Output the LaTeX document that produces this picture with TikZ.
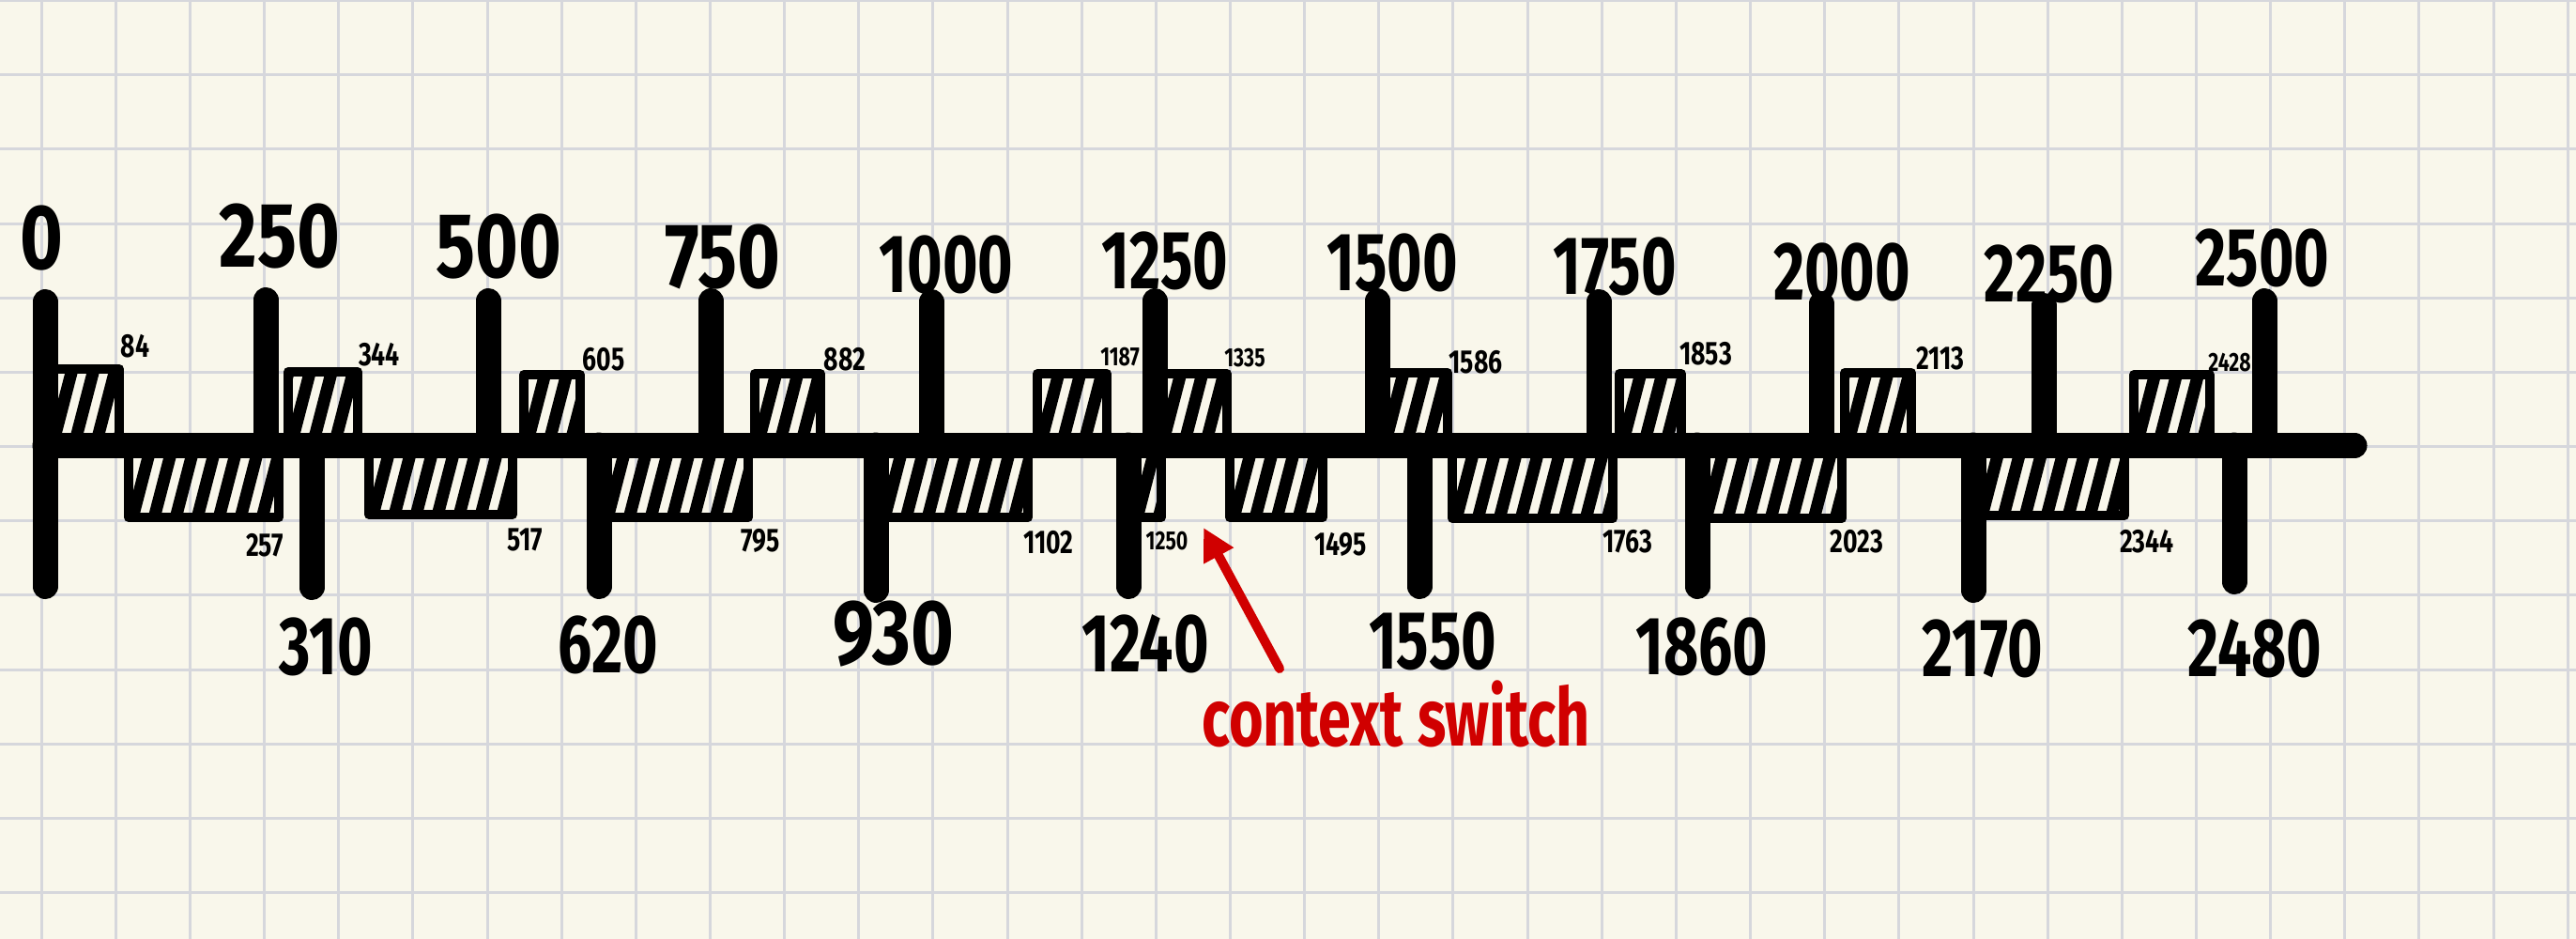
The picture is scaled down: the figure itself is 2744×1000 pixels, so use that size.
\documentclass[tikz,border=0pt]{standalone}
\usepackage{fontspec}
\newfontfamily\handfont[FakeStretch=0.73]{Fira Sans}
\newfontfamily\widehand[FakeStretch=0.8]{Fira Sans}
\newfontfamily\smallhand[FakeStretch=0.76]{Fira Sans}
\newfontfamily\redhand[FakeStretch=0.73]{Fira Sans}
\usetikzlibrary{arrows.meta}
\definecolor{paper}{RGB}{249,247,235}
\definecolor{gridc}{RGB}{214,215,220}
\definecolor{penred}{RGB}{208,0,0}
\tikzset{
  gridline/.style={gridc, line width=3pt},
  tickline/.style={line width=27pt, line cap=round},
  axisline/.style={line width=27pt, line cap=round},
  boxline/.style={line width=10pt, line join=round},
  hatchline/.style={line width=13pt, line cap=round},
  biglabel/.style={font=\handfont\bfseries\fontsize{88}{88}\selectfont, inner sep=0pt},
  widelabel/.style={font=\widehand\bfseries\fontsize{98}{98}\selectfont, inner sep=0pt},
  smalllabel/.style={font=\smallhand\bfseries\fontsize{35}{35}\selectfont, inner sep=0pt},
  tinylabel/.style={font=\smallhand\bfseries\fontsize{28}{28}\selectfont, inner sep=0pt},
  redlabel/.style={text=penred, font=\redhand\bfseries\fontsize{86}{86}\selectfont, inner sep=0pt},
  redarrow/.style={draw=penred, line width=10pt, line cap=round, -{Triangle[length=34pt,width=34pt,fill=penred]}},
}
\newcommand{\hatchrect}[4]{%
  \begin{scope}
    \clip ({#1+5},{#2+5}) rectangle ({#3-5},{#4-5});
    \foreach \k in {-3,...,11}{
      \draw[hatchline] ({#1+8+\k*23},{#4}) -- ({#1+8+\k*23+0.26*(#4-#2)},{#2});
    }
  \end{scope}
  \draw[boxline] ({#1+5},{#2+5}) rectangle ({#3-5},{#4-5});
}
\begin{document}
\begin{tikzpicture}[x=1pt,y=-1pt]
\useasboundingbox (0,0) rectangle (2744,1000);
\fill[paper] (0,0) rectangle (2744,1000);
% grid
\foreach \gx in {0,...,34}{\draw[gridline] ({44.1+\gx*79.15},0) -- ++(0,1000);}
\foreach \gy in {0,...,12}{\draw[gridline] (0,{0.7+\gy*79.15}) -- ++(2744,0);}
% upper boxes
\hatchrect{48}{388}{132}{474}
\hatchrect{302}{391}{386}{474}
\hatchrect{553}{394}{623}{474}
\hatchrect{799}{393}{879}{474}
\hatchrect{1100}{393}{1184}{474}
\hatchrect{1230}{393}{1312}{474}
\hatchrect{1467}{392}{1547}{474}
\hatchrect{1720}{393}{1796}{474}
\hatchrect{1960}{392}{2041}{474}
\hatchrect{2268}{394}{2359}{474}
% lower boxes
\hatchrect{132}{474}{302}{556}
\hatchrect{388}{474}{551}{553}
\hatchrect{638}{474}{802}{556}
\hatchrect{933}{474}{1100}{556}
\hatchrect{1202}{474}{1242}{556}
\hatchrect{1305}{474}{1414}{556}
\hatchrect{1542}{474}{1723}{557}
\hatchrect{1808}{474}{1967}{557}
\hatchrect{2102}{474}{2268}{554}
% ticks
\coordinate (t0a) at (48,321.5);
\coordinate (t0b) at (48,624.5);
\draw[tickline] (t0a) -- (t0b);
\foreach \x/\y in {283/306,520/307,757/307,992/308,1230/307,1467/307,1703/308,1940/310,2177/312,2412/307}{
  \draw[tickline] (\x,{\y+13.5}) -- (\x,474);
}
\foreach \x/\y in {332/639,638/638,933/642,1202/638,1512/638,1808/638,2102/642,2380/633}{
  \draw[tickline] (\x,474) -- (\x,{\y-13.5});
}
% axis
\coordinate (axl) at (48,474.5);
\coordinate (axr) at (2508,474.5);
\draw[axisline] (axl) -- (axr);
% big labels top
\node[widelabel] (l0) at (44,254) {0};
\node[widelabel] (l250) at (298,252) {250};
\node[widelabel] (l500) at (531,263) {500};
\node[widelabel] (l750) at (770,274) {750};
\node[biglabel] (l1000) at (1008,282) {1000};
\node[biglabel] (l1250) at (1241,278) {1250};
\node[biglabel] (l1500) at (1483,280) {1500};
\node[biglabel] (l1750) at (1720,284) {1750};
\node[biglabel] (l2000) at (1962,290) {2000};
\node[biglabel] (l2250) at (2183,292) {2250};
\node[biglabel] (l2500) at (2410,275) {2500};
% big labels bottom
\node[biglabel] (l310) at (347,689) {310};
\node[biglabel] (l620) at (648,687) {620};
\node[widelabel] (l930) at (952,675) {930};
\node[biglabel] (l1240) at (1220,686) {1240};
\node[biglabel] (l1550) at (1526,683) {1550};
\node[biglabel] (l1860) at (1813,689) {1860};
\node[biglabel] (l2170) at (2112,691) {2170};
\node[biglabel] (l2480) at (2402,691) {2480};
% small labels upper
\node[smalllabel] (s84) at (144,369) {84};
\node[smalllabel] (s344) at (404,378) {344};
\node[smalllabel] (s605) at (643,383) {605};
\node[smalllabel] (s882) at (900,383) {882};
\node[tinylabel] (s1187) at (1193,380) {1187};
\node[tinylabel] (s1335) at (1326,381) {1335};
\node[smalllabel] (s1586) at (1572,386) {1586};
\node[smalllabel] (s1853) at (1817,377) {1853};
\node[smalllabel] (s2113) at (2067,382) {2113};
\node[tinylabel] (s2428) at (2375,386) {2428};
% small labels lower
\node[smalllabel] (s257) at (282,581) {257};
\node[smalllabel] (s517) at (559,575) {517};
\node[smalllabel] (s795) at (810,576) {795};
\node[smalllabel] (s1102) at (1117,578) {1102};
\node[tinylabel] (s1250) at (1243,576) {1250};
\node[smalllabel] (s1495) at (1428,580) {1495};
\node[smalllabel] (s1763) at (1734,577) {1763};
\node[smalllabel] (s2023) at (1978,577) {2023};
\node[smalllabel] (s2344) at (2287,577) {2344};
% context switch
\node[redlabel] (cs) at (1487,760) {context switch};
\coordinate (cstail) at (1363,712);
\coordinate (cstip) at (1282,562);
\draw[redarrow] (cstail) -- (cstip);
\end{tikzpicture}
\end{document}
